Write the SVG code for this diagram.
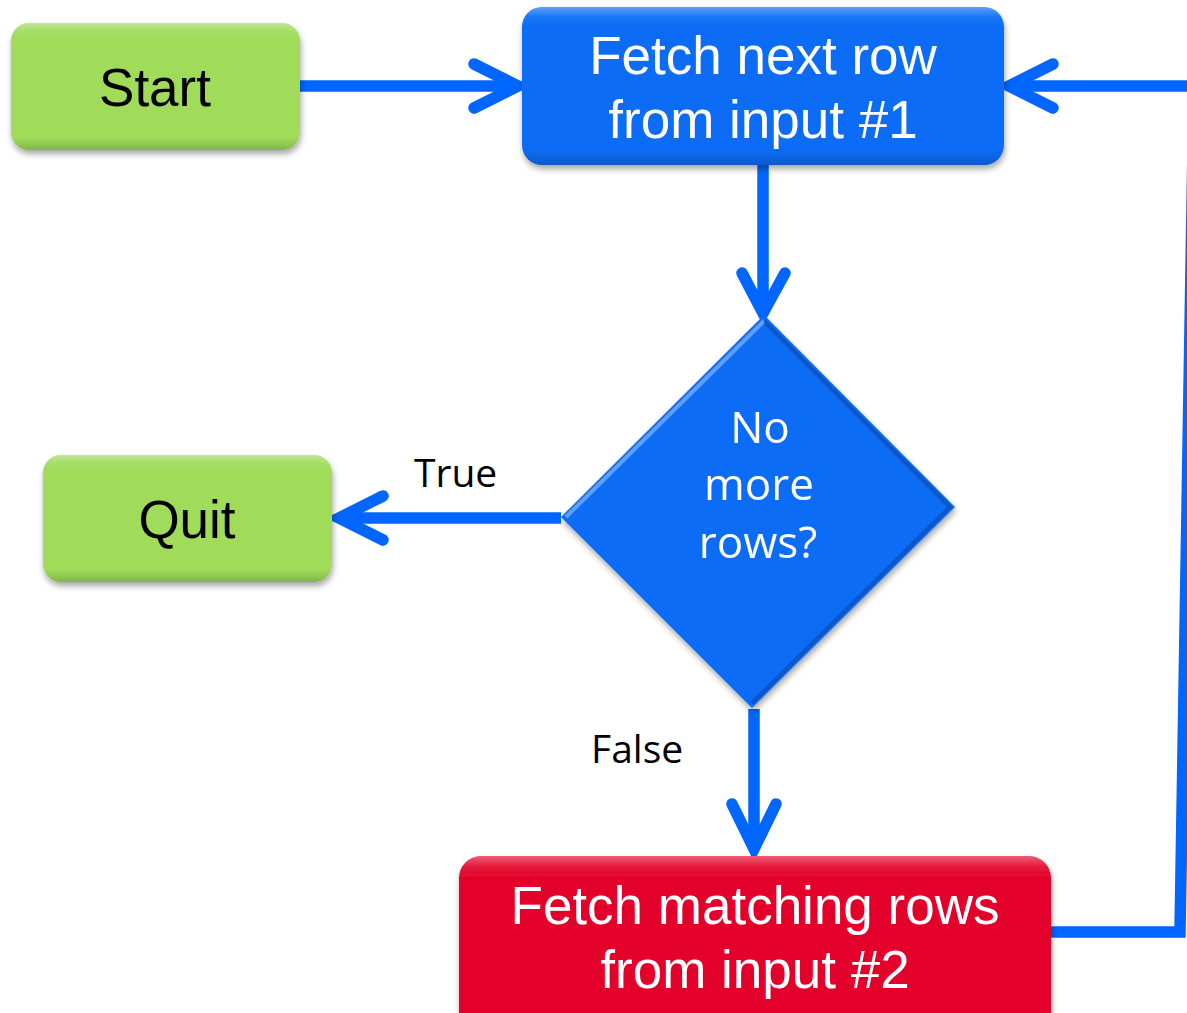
<svg xmlns="http://www.w3.org/2000/svg" width="1187" height="1013" viewBox="0 0 1187 1013">
  <style>
    .box-text { font-family: "Liberation Sans", Arial, sans-serif; font-size: 53px; text-anchor: middle; }
    .light { fill: #ffffff; }
    .dark { fill: #000000; }
    .dec-text { font-family: "Open Sans", "Liberation Sans", sans-serif; font-size: 44px; fill: #ffffff; text-anchor: middle; }
    .label { font-family: "Open Sans", "Liberation Sans", sans-serif; font-size: 39px; fill: #000000; }
    .wire { fill: none; stroke: #0066ff; stroke-width: 11.5; }
    .head { fill: none; stroke: #0066ff; stroke-width: 11.5; stroke-linecap: round; stroke-linejoin: miter; }
  </style>
  <defs>
    <filter id="shadow" x="-10%" y="-10%" width="120%" height="130%">
      <feGaussianBlur in="SourceAlpha" stdDeviation="3"/>
      <feOffset dx="1" dy="4" result="b"/>
      <feComponentTransfer><feFuncA type="linear" slope="0.35"/></feComponentTransfer>
      <feMerge><feMergeNode/><feMergeNode in="SourceGraphic"/></feMerge>
    </filter>
    <linearGradient id="gloss" x1="0" y1="0" x2="0" y2="1">
      <stop offset="0" stop-color="#ffffff" stop-opacity="0.35"/>
      <stop offset="0.06" stop-color="#ffffff" stop-opacity="0.08"/>
      <stop offset="0.12" stop-color="#ffffff" stop-opacity="0"/>
      <stop offset="0.9" stop-color="#000000" stop-opacity="0"/>
      <stop offset="1" stop-color="#000000" stop-opacity="0.18"/>
    </linearGradient>
  </defs>

  <!-- connectors -->
  <g id="connectors">
    <!-- Start -> Fetch next row -->
    <line class="wire" x1="300" y1="86" x2="514" y2="86"/>
    <polyline class="head" points="474,64 518,86 474,108"/>
    <!-- Fetch next row -> decision -->
    <line class="wire" x1="763" y1="165" x2="763" y2="310"/>
    <polyline class="head" points="742,273 763,313 785,273"/>
    <!-- decision -> Quit -->
    <line class="wire" x1="561" y1="518" x2="342" y2="518"/>
    <polyline class="head" points="383,496 339,518 383,540"/>
    <!-- decision -> Fetch matching rows -->
    <line class="wire" x1="754" y1="709" x2="754" y2="846"/>
    <polyline class="head" points="732,804 754,849 776,804"/>
    <!-- loop back to Fetch next row (runs just past the right edge) -->
    <path class="wire" d="M1051,932 L1180,932 L1194,86 L1012,86"/>
    <polyline class="head" points="1053,64 1009,86 1053,108"/>
    <text class="label" x="414" y="487">True</text>
    <text class="label" x="591" y="763">False</text>
  </g>

  <g id="start" filter="url(#shadow)">
    <rect x="11" y="23" width="289" height="127" rx="18" fill="#a0dc5a"/>
    <rect x="11" y="23" width="289" height="127" rx="18" fill="url(#gloss)"/>
    <text class="box-text dark" x="155" y="106" font-size="50">Start</text>
  </g>

  <g id="fetch-next" filter="url(#shadow)">
    <rect x="522" y="7" width="482" height="158" rx="20" fill="#0a6cf6"/>
    <rect x="522" y="7" width="482" height="158" rx="20" fill="url(#gloss)"/>
    <text class="box-text light" x="763" y="74">Fetch next row</text>
    <text class="box-text light" x="763" y="138">from input #1</text>
  </g>

  <g id="decision" filter="url(#shadow)">
    <polygon points="764,315 955,507 752,708 561,517" fill="#0a6cf6"/>
    <polyline points="566,517 764,321" fill="none" stroke="#ffffff" stroke-opacity="0.35" stroke-width="4"/>
    <polyline points="764,321 950,507 752,703" fill="none" stroke="#000000" stroke-opacity="0.2" stroke-width="4"/>
    <text class="dec-text" x="760" y="443">No</text>
    <text class="dec-text" x="759" y="500">more</text>
    <text class="dec-text" x="758" y="558">rows?</text>
  </g>

  <g id="quit" filter="url(#shadow)">
    <rect x="43" y="455" width="289" height="127" rx="18" fill="#a0dc5a"/>
    <rect x="43" y="455" width="289" height="127" rx="18" fill="url(#gloss)"/>
    <text class="box-text dark" x="187" y="538" font-size="50">Quit</text>
  </g>

  <g id="fetch-matching" filter="url(#shadow)">
    <rect x="459" y="856" width="592" height="180" rx="22" fill="#e3062b"/>
    <rect x="459" y="856" width="592" height="180" rx="22" fill="url(#gloss)"/>
    <text class="box-text light" x="755" y="924">Fetch matching rows</text>
    <text class="box-text light" x="755" y="988">from input #2</text>
  </g>
</svg>
